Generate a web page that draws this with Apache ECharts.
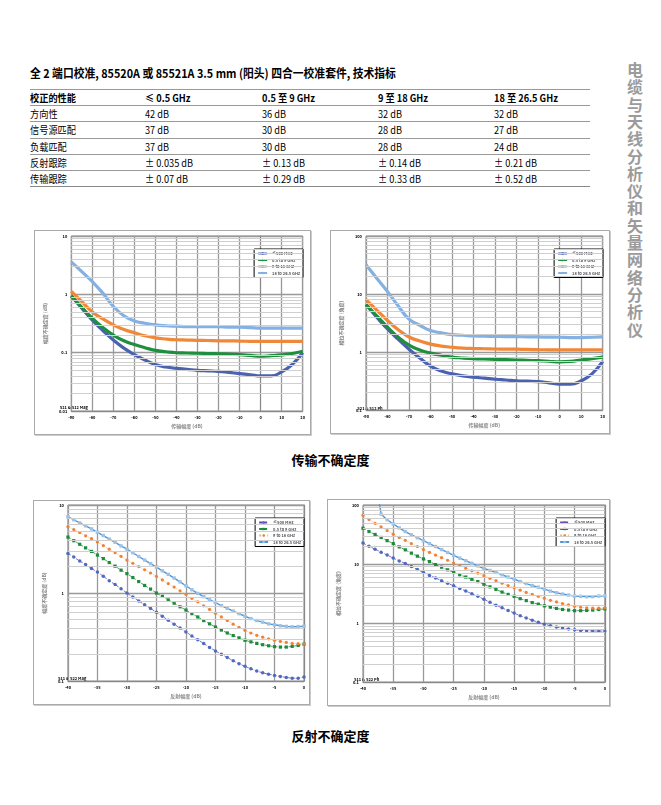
<!DOCTYPE html>
<html lang="zh">
<head>
<meta charset="UTF-8">
<title>校准套件技术指标</title>
<style>
  body { margin:0; width:661px; height:805px; background:#fff; position:relative; overflow:hidden;
         font-family:"Liberation Sans Narrow","Noto Sans CJK SC",sans-serif; color:#000; }
  .title { position:absolute; left:30px; top:64px; font-size:12px; font-weight:bold; white-space:nowrap;
           transform:scaleX(0.9); transform-origin:left center; }
  table { position:absolute; left:30px; top:89px; width:560px; border-collapse:collapse; font-size:10px; }
  td { height:15.2px; padding:0; border-top:1px solid #999; vertical-align:middle; white-space:nowrap; }
  td span { display:inline-block; transform:scaleX(0.92); transform-origin:left center; }
  tr:first-child td { font-weight:bold; }
  tr:last-child td { border-bottom:1.5px solid #888; }
  .side { position:absolute; left:623px; top:62px; writing-mode:vertical-rl; font-size:16px; font-weight:bold;
          color:#9b9b9b; letter-spacing:1.3px; font-family:"Noto Sans CJK SC",sans-serif; }
  .box { position:absolute; border:1px solid #aaa; box-shadow:1px 1px 0 #ccc; background:#fff; }
  .cap { position:absolute; width:661px; left:0; text-align:center; font-size:13px; font-weight:bold;
         font-family:"Noto Sans CJK SC",sans-serif; }
</style>
</head>
<body>
<div class="title">全 2 端口校准, 85520A 或 85521A 3.5 mm (阳头) 四合一校准套件, 技术指标</div>
<table id="spec"></table>
<div class="side">电缆与天线分析仪和矢量网络分析仪</div>

<div class="box" id="tl" style="left:34px;top:230px;width:275px;height:203px;"></div>
<div class="box" id="tr" style="left:330px;top:230px;width:278px;height:202px;"></div>
<div class="cap" style="top:450px;">传输不确定度</div>
<div class="box" id="bl" style="left:33px;top:500px;width:275px;height:203px;"></div>
<div class="box" id="br" style="left:327px;top:499px;width:281px;height:205px;"></div>
<div class="cap" style="top:726px;">反射不确定度</div>

<script src="https://cdn.jsdelivr.net/npm/echarts@6/dist/echarts.min.js"></script>
<script>
  // spec table
  const specHead = ['校正的性能', '≤ 0.5 GHz', '0.5 至 9 GHz', '9 至 18 GHz', '18 至 26.5 GHz']
  const specRows = [
    ['方向性', '42 dB', '36 dB', '32 dB', '32 dB'],
    ['信号源匹配', '37 dB', '30 dB', '28 dB', '27 dB'],
    ['负载匹配', '37 dB', '30 dB', '28 dB', '24 dB'],
    ['反射跟踪', '± 0.035 dB', '± 0.13 dB', '± 0.14 dB', '± 0.21 dB'],
    ['传输跟踪', '± 0.07 dB', '± 0.29 dB', '± 0.33 dB', '± 0.52 dB']
  ]
  const colWidths = [115, 117, 116, 116, 96]

  // chart data
  const legendNames = ['≤500 MHz', '0.5 to 9 GHz', '9 to 18 GHz', '18 to 26.5 GHz']
  const minorTicks = [0.02, 0.03, 0.04, 0.05, 0.06, 0.07, 0.08, 0.09,
    0.2, 0.3, 0.4, 0.5, 0.6, 0.7, 0.8, 0.9, 2, 3, 4, 5, 6, 7, 8, 9,
    20, 30, 40, 50, 60, 70, 80, 90]

  const transX = [-90, -85, -80, -75, -70, -65, -60, -55, -50, -45, -40, -35, -30, -25, -20, -15, -10, -5, 0, 5, 10, 15, 20]
  // S21/S12 magnitude (dB)
  const tMagLow = [0.94, 0.58, 0.36, 0.24, 0.165, 0.12, 0.093, 0.075, 0.063, 0.057, 0.054, 0.052, 0.050, 0.049, 0.048, 0.046, 0.044, 0.042, 0.040, 0.040, 0.047, 0.063, 0.10]
  const tMagMid = [0.94, 0.6, 0.39, 0.27, 0.20, 0.16, 0.138, 0.122, 0.11, 0.104, 0.100, 0.099, 0.098, 0.097, 0.096, 0.095, 0.093, 0.090, 0.087, 0.089, 0.092, 0.097, 0.106]
  const tMagHigh = [1.13, 0.75, 0.5, 0.38, 0.30, 0.25, 0.22, 0.195, 0.18, 0.172, 0.167, 0.165, 0.163, 0.162, 0.16, 0.16, 0.158, 0.157, 0.156, 0.156, 0.156, 0.156, 0.156]
  const tMagTop = [3.6, 2.45, 1.65, 1.05, 0.62, 0.43, 0.35, 0.32, 0.30, 0.29, 0.285, 0.28, 0.28, 0.28, 0.28, 0.275, 0.275, 0.27, 0.265, 0.265, 0.265, 0.265, 0.265]
  // S21/S12 phase (deg)
  const tPhLow = [6.6, 4.0, 2.5, 1.66, 1.12, 0.79, 0.57, 0.47, 0.42, 0.39, 0.37, 0.355, 0.34, 0.33, 0.32, 0.315, 0.31, 0.295, 0.28, 0.28, 0.32, 0.42, 0.69]
  const tPhMid = [6.6, 4.2, 2.7, 1.8, 1.32, 1.09, 0.96, 0.88, 0.82, 0.79, 0.77, 0.76, 0.75, 0.74, 0.73, 0.72, 0.71, 0.695, 0.68, 0.69, 0.73, 0.77, 0.82]
  const tPhHigh = [8.0, 5.3, 3.5, 2.43, 1.82, 1.55, 1.37, 1.27, 1.21, 1.17, 1.15, 1.14, 1.13, 1.125, 1.12, 1.11, 1.10, 1.095, 1.09, 1.09, 1.09, 1.09, 1.09]
  const tPhTop = [32, 18.7, 11, 6.2, 3.7, 2.9, 2.35, 2.14, 2.0, 1.95, 1.9, 1.88, 1.86, 1.85, 1.84, 1.83, 1.82, 1.81, 1.80, 1.78, 1.78, 1.80, 1.82]

  const reflX = [-40, -39, -38, -37, -36, -35, -34, -33, -32, -31, -30, -29, -28, -27, -26, -25, -24, -23, -22, -21,
    -20, -19, -18, -17, -16, -15, -14, -13, -12, -11, -10, -9, -8, -7, -6, -5, -4, -3, -2, -1, 0]
  // S11/S22 magnitude (dB)
  const rMagLow = [2.82, 2.56, 2.31, 2.11, 1.90, 1.73, 1.55, 1.38, 1.25, 1.12, 1.00, 0.902, 0.814, 0.735, 0.669, 0.604, 0.545, 0.491, 0.443, 0.400,
    0.361, 0.326, 0.294, 0.268, 0.2415, 0.220, 0.202, 0.185, 0.170, 0.157, 0.147, 0.138, 0.130, 0.124, 0.120, 0.116, 0.113, 0.110, 0.108, 0.108, 0.111]
  const rMagMid = [4.32, 3.93, 3.58, 3.26, 2.97, 2.70, 2.46, 2.22, 2.02, 1.82, 1.66, 1.50, 1.35, 1.22, 1.11, 1.00, 0.918, 0.835, 0.767, 0.698,
    0.641, 0.583, 0.535, 0.487, 0.447, 0.411, 0.380, 0.352, 0.329, 0.310, 0.291, 0.279, 0.268, 0.259, 0.252, 0.246, 0.2435, 0.2435, 0.248, 0.254, 0.263]
  const rMagHigh = [5.68, 5.26, 4.87, 4.47, 4.14, 3.80, 3.46, 3.15, 2.87, 2.61, 2.37, 2.18, 2.00, 1.84, 1.69, 1.55, 1.41, 1.28, 1.17, 1.06,
    0.967, 0.872, 0.794, 0.716, 0.652, 0.588, 0.535, 0.487, 0.443, 0.407, 0.377, 0.352, 0.331, 0.315, 0.302, 0.291, 0.282, 0.275, 0.268, 0.266, 0.263]
  const rMagTop = [7.35, 6.8, 6.25, 5.8, 5.35, 4.9, 4.5, 4.1, 3.77, 3.43, 3.15, 2.87, 2.6, 2.37, 2.16, 1.97, 1.79, 1.63, 1.48, 1.34,
    1.21, 1.09, 0.99, 0.91, 0.84, 0.78, 0.72, 0.67, 0.625, 0.583, 0.545, 0.513, 0.487, 0.467, 0.447, 0.436, 0.425, 0.418, 0.414, 0.416, 0.42]
  // S11/S22 phase (deg)
  const rPhLow = [22.7, 20.0, 17.8, 15.9, 14.2, 12.6, 11.3, 10.2, 9.06, 8.08, 7.20, 6.42, 5.80, 5.23, 4.73, 4.27, 3.85, 3.48, 3.14, 2.84,
    2.53, 2.25, 2.01, 1.81, 1.64, 1.48, 1.33, 1.22, 1.12, 1.03, 0.957, 0.898, 0.854, 0.822, 0.791, 0.771, 0.751, 0.742, 0.732, 0.732, 0.732]
  const rPhMid = [40.4, 35.5, 31.7, 28.2, 24.9, 22.2, 19.5, 17.4, 15.3, 13.6, 12.2, 11.0, 9.79, 8.84, 7.98, 7.20, 6.59, 6.02, 5.51, 5.04,
    4.55, 4.11, 3.71, 3.35, 3.06, 2.84, 2.59, 2.40, 2.22, 2.09, 1.96, 1.86, 1.77, 1.70, 1.66, 1.62, 1.62, 1.64, 1.66, 1.70, 1.74]
  const rPhHigh = [67.3, 57.0, 48.9, 42.5, 36.9, 32.1, 28.2, 25.2, 22.2, 19.8, 17.6, 15.7, 14.2, 12.8, 11.6, 10.4, 9.42, 8.50, 7.68, 7.02,
    6.34, 5.72, 5.23, 4.73, 4.32, 3.95, 3.61, 3.30, 3.06, 2.84, 2.63, 2.43, 2.28, 2.14, 2.03, 1.93, 1.86, 1.81, 1.79, 1.79, 1.81]
  const rPhTop = [null, null, 300, 69.9, 56.3, 47.7, 40.9, 35.5, 31.3, 27.9, 24.9, 22.2, 19.8, 17.6, 15.7, 14.0, 12.6, 11.4, 10.3, 9.30,
    8.40, 7.78, 7.20, 6.59, 6.02, 5.58, 5.04, 4.67, 4.32, 4.05, 3.75, 3.48, 3.26, 3.10, 2.98, 2.87, 2.84, 2.80, 2.80, 2.87, 2.91]

  // build table
  const table = document.getElementById('spec')
  ;[specHead].concat(specRows).forEach(row => {
    const tr = document.createElement('tr')
    row.forEach((txt, i) => {
      const td = document.createElement('td')
      const span = document.createElement('span')
      span.textContent = txt
      td.appendChild(span)
      td.style.width = colWidths[i] + 'px'
      tr.appendChild(td)
    })
    table.appendChild(tr)
  })

  const font = '"Liberation Sans Narrow","Noto Sans CJK SC",sans-serif'

  function pairs(xs, ys) {
    const out = []
    xs.forEach((x, i) => { if (ys[i] != null) out.push([x, ys[i]]) })
    return out
  }

  // thick, densely marked curves of the transmission plots
  function thickLine(name, color, xs, ys) {
    return {
      name: name, type: 'line', data: pairs(xs, ys), smooth: true,
      symbol: 'circle', symbolSize: 3, showSymbol: false,
      lineStyle: { color: color, width: 3.2 }, itemStyle: { color: color }
    }
  }

  // marker curves of the reflection plots
  function markedLine(name, lineColor, markColor, symbol, size, dash, width, xs, ys) {
    return {
      name: name, type: 'line', data: pairs(xs, ys),
      symbol: symbol, symbolSize: size, showSymbol: true,
      lineStyle: { color: lineColor, width: width, type: dash },
      itemStyle: { color: markColor }
    }
  }

  function makeChart(id, o) {
    const chart = echarts.init(document.getElementById(id))
    const minor = minorTicks.filter(v => v > o.yMin && v < o.yMax)
    chart.setOption({
      animation: false,
      textStyle: { fontFamily: font },
      grid: Object.assign({ show: true, borderColor: '#888', borderWidth: 1 }, o.grid),
      legend: {
        orient: 'vertical', right: o.legendRight, top: o.legendTop,
        itemWidth: 9, itemHeight: 3, itemGap: 2.5, padding: [2.5, 3, 2.5, 3],
        borderColor: '#000', borderWidth: 1, backgroundColor: '#fff',
        textStyle: { fontSize: 4, fontWeight: 'bold', fontFamily: font },
        data: legendNames
      },
      xAxis: {
        type: 'value', min: o.xMin, max: o.xMax, interval: o.xStep,
        name: o.xName, nameLocation: 'middle', nameGap: 11,
        nameTextStyle: { fontSize: 5, fontWeight: 'bold', fontFamily: font },
        axisLine: { lineStyle: { color: '#888' } }, axisTick: { show: false },
        axisLabel: { fontSize: 4, fontWeight: 'bold', color: '#000', margin: 4 },
        splitLine: { lineStyle: { color: '#999', width: 1.3 } }
      },
      yAxis: {
        type: 'log', logBase: 10, min: o.yMin, max: o.yMax,
        name: o.yName, nameLocation: 'middle', nameGap: 16, nameRotate: 90,
        nameTextStyle: { fontSize: 5, fontWeight: 'bold', fontFamily: font },
        axisLine: { lineStyle: { color: '#888' } }, axisTick: { show: false },
        axisLabel: { fontSize: 4, fontWeight: 'bold', color: '#000', margin: 4 },
        splitLine: { lineStyle: { color: '#999', width: 1.3 } }
      },
      graphic: [{
        type: 'text', left: o.grid.left + 3, bottom: o.grid.bottom + 4,
        style: { text: o.note, fontSize: 4, fontWeight: 'bold', fill: '#000', fontFamily: font }
      }],
      series: [{
        name: 'minor', type: 'line', data: [], z: 1,
        markLine: {
          silent: true, symbol: 'none', label: { show: false }, animation: false,
          lineStyle: { color: '#cfcfcf', width: 1.2, type: 'solid' },
          data: minor.map(v => ({ yAxis: v }))
        }
      }].concat(o.series)
    })
  }

  makeChart('tl', {
    grid: { left: 21.7, top: 5, right: 7.3, bottom: 21 }, legendRight: 7, legendTop: 18,
    xMin: -90, xMax: 20, xStep: 10, yMin: 0.01, yMax: 10,
    xName: '传输幅度 (dB)', yName: '幅度不确定度 (dB)', note: 'S21 & S12 Mag',
    series: [
      thickLine(legendNames[0], '#4a62b0', transX, tMagLow),
      thickLine(legendNames[1], '#1f8f3f', transX, tMagMid),
      thickLine(legendNames[2], '#f0883a', transX, tMagHigh),
      thickLine(legendNames[3], '#85b0e2', transX, tMagTop)
    ]
  })

  makeChart('tr', {
    grid: { left: 23.3, top: 5, right: 6.3, bottom: 19 }, legendRight: 6, legendTop: 18,
    xMin: -90, xMax: 20, xStep: 10, yMin: 0.1, yMax: 100,
    xName: '传输幅度 (dB)', yName: '相位不确定度 (角度)', note: 'S21 & S12 Ph',
    series: [
      thickLine(legendNames[0], '#4a62b0', transX, tPhLow),
      thickLine(legendNames[1], '#1f8f3f', transX, tPhMid),
      thickLine(legendNames[2], '#f0883a', transX, tPhHigh),
      thickLine(legendNames[3], '#85b0e2', transX, tPhTop)
    ]
  })

  makeChart('bl', {
    grid: { left: 21, top: 4, right: 5, bottom: 19.5 }, legendRight: 5, legendTop: 17,
    xMin: -40, xMax: 0, xStep: 5, yMin: 0.1, yMax: 10,
    xName: '反射幅度 (dB)', yName: '幅度不确定度 (dB)', note: 'S11 & S22 Mag',
    series: [
      markedLine(legendNames[0], '#7a3fa8', '#4a6cc2', 'circle', 3.5, 'dashed', 0.8, reflX, rMagLow),
      markedLine(legendNames[1], '#1d8a3c', '#1d8a3c', 'rect', 3.2, 'dashed', 0.8, reflX, rMagMid),
      markedLine(legendNames[2], '#f2b48a', '#ee8236', 'circle', 3.2, 'dotted', 0.8, reflX, rMagHigh),
      markedLine(legendNames[3], '#4f94d4', '#9cc2e8', 'rect', 3.4, 'solid', 1.4, reflX, rMagTop)
    ]
  })

  makeChart('br', {
    grid: { left: 23, top: 5, right: 4, bottom: 19.7 }, legendRight: 4, legendTop: 18,
    xMin: -40, xMax: 0, xStep: 5, yMin: 0.1, yMax: 100,
    xName: '反射幅度 (dB)', yName: '相位不确定度 (角度)', note: 'S11 & S22 Ph',
    series: [
      markedLine(legendNames[0], '#7a3fa8', '#4a6cc2', 'circle', 3.5, 'dashed', 0.8, reflX, rPhLow),
      markedLine(legendNames[1], '#1d8a3c', '#1d8a3c', 'rect', 3.2, 'dashed', 0.8, reflX, rPhMid),
      markedLine(legendNames[2], '#f2b48a', '#ee8236', 'circle', 3.2, 'dotted', 0.8, reflX, rPhHigh),
      markedLine(legendNames[3], '#4f94d4', '#9cc2e8', 'rect', 3.4, 'solid', 1.4, reflX, rPhTop)
    ]
  })
</script>
</body>
</html>
